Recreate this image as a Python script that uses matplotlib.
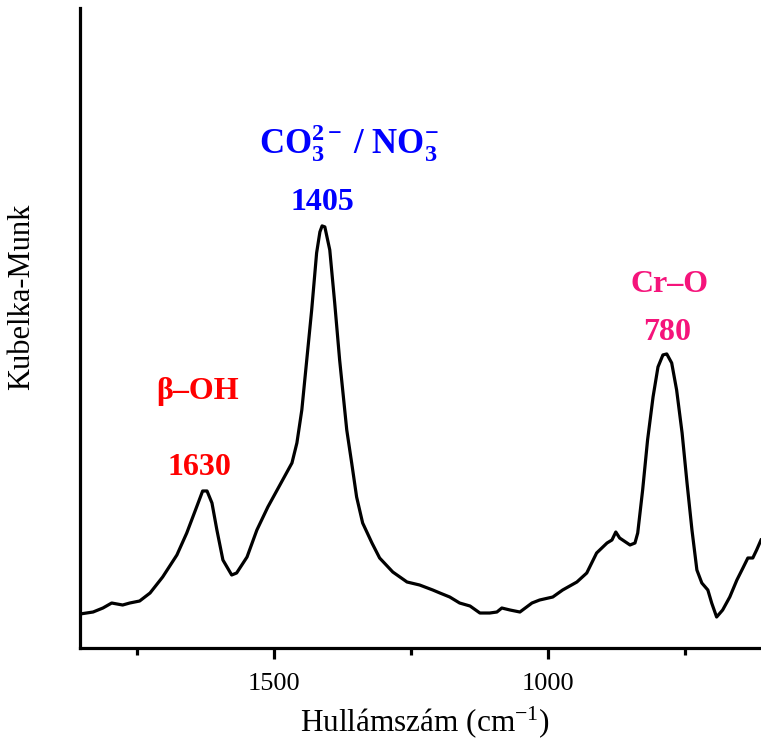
import matplotlib
matplotlib.use("Agg")
import matplotlib.pyplot as plt
from matplotlib.ticker import MultipleLocator

plt.rcParams['font.family'] = ['Liberation Serif', 'DejaVu Serif']
plt.rcParams['mathtext.fontset'] = 'custom'
plt.rcParams['mathtext.rm'] = 'Liberation Serif'
plt.rcParams['mathtext.bf'] = 'Liberation Serif:bold'
plt.rcParams['mathtext.it'] = 'Liberation Serif:italic'

wavenumber = [1854, 1830, 1812, 1796, 1776, 1763, 1745, 1726, 1703, 1677, 1659, 1641,
              1630, 1622, 1613, 1604, 1593, 1577, 1568, 1549, 1531, 1511, 1489, 1467,
              1458, 1449, 1440, 1431, 1422, 1416, 1412, 1407, 1398, 1389, 1380, 1367,
              1358, 1349, 1338, 1321, 1307, 1283, 1257, 1234, 1210, 1197, 1179, 1161,
              1142, 1124, 1106, 1093, 1084, 1069, 1051, 1029, 1015, 991, 973, 947, 929,
              911, 892, 883, 876, 869, 850, 841, 836, 827, 818, 808, 799, 790, 783, 774,
              765, 755, 746, 737, 728, 719, 708, 701, 692, 681, 668, 655, 644, 635, 626,
              619, 611]
km = [0.34, 0.36, 0.40, 0.45, 0.43, 0.45, 0.47, 0.55, 0.71, 0.93, 1.15, 1.41,
      1.57, 1.57, 1.45, 1.18, 0.88, 0.73, 0.75, 0.91, 1.18, 1.41, 1.63, 1.85,
      2.05, 2.38, 2.88, 3.38, 3.95, 4.16, 4.22, 4.21, 3.98, 3.45, 2.88, 2.18,
      1.85, 1.51, 1.25, 1.05, 0.90, 0.76, 0.66, 0.63, 0.58, 0.55, 0.51, 0.45,
      0.42, 0.35, 0.35, 0.36, 0.40, 0.38, 0.36, 0.45, 0.48, 0.51, 0.58, 0.66, 0.75,
      0.95, 1.05, 1.08, 1.16, 1.10, 1.03, 1.05, 1.15, 1.58, 2.08, 2.51, 2.81, 2.93, 2.94, 2.85,
      2.58, 2.15, 1.65, 1.18, 0.78, 0.65, 0.58, 0.45, 0.31, 0.38, 0.51, 0.68, 0.80, 0.90, 0.90,
      0.98, 1.08]

peak_positions = [1630, 1405, 780]
peak_names = [r'β–OH', r'$\mathbf{CO_3^{2-}\ /\ NO_3^{-}}$', 'Cr–O']
peak_colors = ['#FF0000', '#0000FF', '#F5147B']
xticks = [1500, 1000]

fig = plt.figure(figsize=(7.61, 7.47), dpi=100)
ax = fig.add_axes([0.105, 0.1325, 0.895, 0.857])
ax.plot(wavenumber, km, color='black', lw=2.3, solid_joinstyle='round')
ax.set_xlim(1854, 611)
ax.set_ylim(0, 6.4)

ax.spines['top'].set_visible(False)
ax.spines['right'].set_visible(False)
ax.spines['left'].set_linewidth(2.3)
ax.spines['bottom'].set_linewidth(2.3)
ax.set_yticks([])
ax.set_xticks(xticks)
ax.xaxis.set_minor_locator(MultipleLocator(250))
ax.tick_params(axis='x', which='major', direction='out', length=8, width=2.3,
               labelsize=19, pad=10)
ax.tick_params(axis='x', which='minor', direction='out', length=5, width=2.3)

ax.set_xlabel(r'Hullámszám (cm$^{-1}$)', fontsize=22.5)
ax.xaxis.set_label_coords(0.507, -0.088)
ax.set_ylabel('Kubelka-Munk', fontsize=22)
ax.yaxis.set_label_coords(-0.065, 0.548)

# annotations: name and number above each peak
name_x = [1639, 1363, 777]
name_y = [2.56, 5.05, 3.63]
name_size = [23, 25, 23]
num_x = [1635, 1411, 783]
num_y = [1.80, 4.45, 3.15]
for p, n, c, nx, ny, ns, ux, uy in zip(peak_positions, peak_names, peak_colors,
                                       name_x, name_y, name_size, num_x, num_y):
    ax.text(ux, uy, str(p), color=c, fontsize=23, fontweight='bold',
            ha='center', va='center')
    ax.text(nx, ny, n, color=c, fontsize=ns, fontweight='bold',
            ha='center', va='center')

fig.savefig('out.png', dpi=100)
